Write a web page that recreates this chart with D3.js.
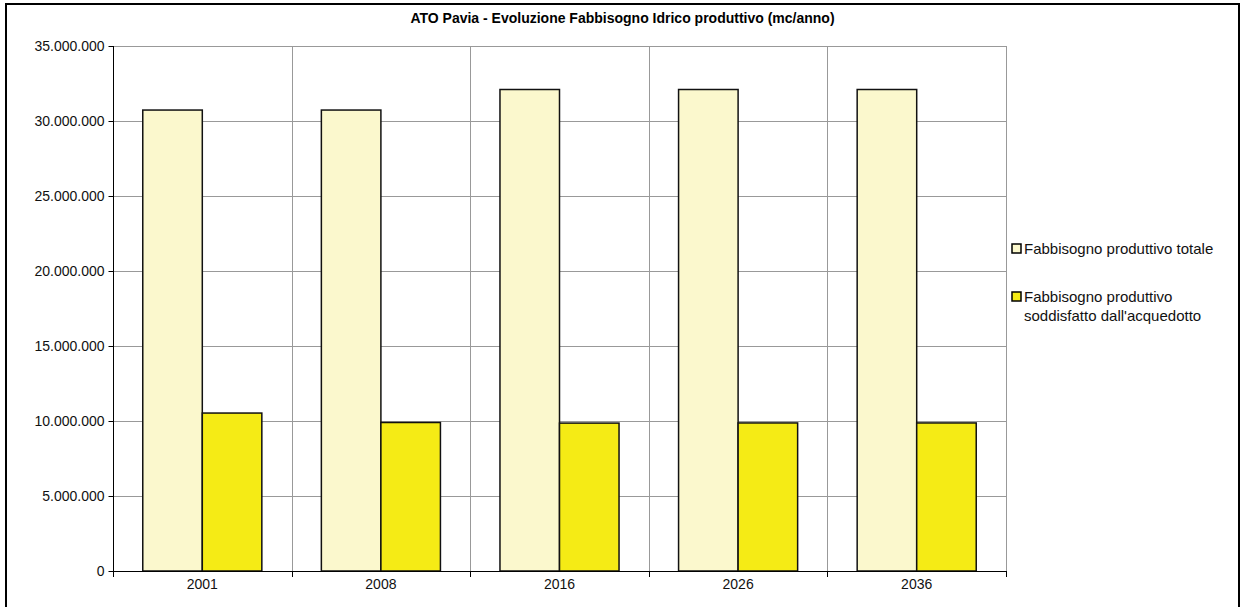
<!DOCTYPE html>
<html><head><meta charset="utf-8">
<script src="https://cdn.jsdelivr.net/npm/d3@7"></script>
<style>body{margin:0;background:#fff}svg{display:block}text{font-family:"Liberation Sans",Arial,sans-serif}</style>
</head><body>
<svg id="c" width="1243" height="607"></svg>
<script>
const title = "ATO Pavia - Evoluzione Fabbisogno Idrico produttivo (mc/anno)";
const categories = ["2001","2008","2016","2026","2036"];
const seriesNames = ["Fabbisogno produttivo totale","Fabbisogno produttivo soddisfatto dall'acquedotto"];
const totale = [30730000, 30730000, 32100000, 32100000, 32100000];
const acquedotto = [10530000, 9900000, 9860000, 9870000, 9870000];
const colors = ["#FBF8CD","#F5EB15"];
const yTicks = [0,5000000,10000000,15000000,20000000,25000000,30000000,35000000];

const svg = d3.select("#c");
const m = {l:113, r:1006, t:46, b:571};
const fs = 14;

svg.append("rect").attr("x",6).attr("y",4).attr("width",1233).attr("height",620)
  .attr("fill","#fff").attr("stroke","#000").attr("stroke-width",2);

svg.append("text").attr("x",622.5).attr("y",23).attr("text-anchor","middle")
  .attr("font-weight","bold").attr("font-size",14).text(title);

const x = d3.scaleBand().domain(categories).range([m.l,m.r]).paddingInner(0).paddingOuter(0);
const y = d3.scaleLinear().domain([0,35000000]).range([m.b,m.t]);
const xs = d3.scaleBand().domain([0,1]).range([0,x.bandwidth()]).paddingInner(0).paddingOuter(0.5);
const fmt = d => d3.format(",")(d).replace(/,/g,".");

// horizontal gridlines
svg.append("g").selectAll("line").data(yTicks.filter(d=>d>0)).join("line")
  .attr("x1",m.l).attr("x2",m.r).attr("y1",d=>Math.round(y(d))+0.5).attr("y2",d=>Math.round(y(d))+0.5)
  .attr("stroke","#999").attr("stroke-width",1);
// vertical gridlines
const bounds = categories.slice(1).map(c=>x(c)).concat([m.r]);
svg.append("g").selectAll("line").data(bounds).join("line")
  .attr("x1",d=>Math.round(d)+0.5).attr("x2",d=>Math.round(d)+0.5).attr("y1",m.t).attr("y2",m.b)
  .attr("stroke","#999").attr("stroke-width",1);

// bars
const data = categories.map((c,i)=>({c, v:[totale[i], acquedotto[i]]}));
const g = svg.append("g");
data.forEach(d=>{
  g.selectAll(null).data(d.v).join("rect")
    .attr("x",(v,j)=>x(d.c)+xs(j))
    .attr("y",v=>y(v))
    .attr("width",xs.bandwidth())
    .attr("height",v=>m.b-y(v))
    .attr("fill",(v,j)=>colors[j])
    .attr("stroke","#111").attr("stroke-width",1.5);
});

// y axis
const ya = svg.append("g").attr("transform",`translate(${m.l+0.5},0)`)
  .call(d3.axisLeft(y).tickValues(yTicks).tickFormat(fmt).tickSize(5).tickPadding(4));
ya.select(".domain").attr("stroke","#000").attr("d",`M0,${m.t}V${m.b}`);
ya.selectAll(".tick line").attr("stroke","#000");
ya.selectAll("text").attr("font-size",fs).attr("fill","#111").attr("font-family","Liberation Sans, Arial, sans-serif");

// x axis
const xa = svg.append("g").attr("transform",`translate(0,${m.b+0.5})`)
  .call(d3.axisBottom(x).tickSize(0).tickPadding(8));
xa.select(".domain").attr("stroke","#000").attr("d",`M${m.l},0H${m.r}`);
xa.selectAll("text").attr("font-size",fs).attr("fill","#111").attr("font-family","Liberation Sans, Arial, sans-serif");
svg.append("g").selectAll("line").data([m.l].concat(bounds)).join("line")
  .attr("x1",d=>Math.round(d)+0.5).attr("x2",d=>Math.round(d)+0.5).attr("y1",m.b).attr("y2",m.b+6)
  .attr("stroke","#000");

// legend
const leg = svg.append("g");
const legItems = [{y:244, lines:["Fabbisogno produttivo totale"]},
                  {y:292, lines:["Fabbisogno produttivo","soddisfatto dall'acquedotto"]}];
legItems.forEach((it,i)=>{
  leg.append("rect").attr("x",1012).attr("y",it.y).attr("width",9).attr("height",9)
    .attr("fill",colors[i]).attr("stroke","#000").attr("stroke-width",1.5);
  it.lines.forEach((t,k)=>{
    leg.append("text").attr("x",1024).attr("y",it.y+10+k*19).attr("font-size",15).attr("fill","#111").text(t);
  });
});
</script>
</body></html>
